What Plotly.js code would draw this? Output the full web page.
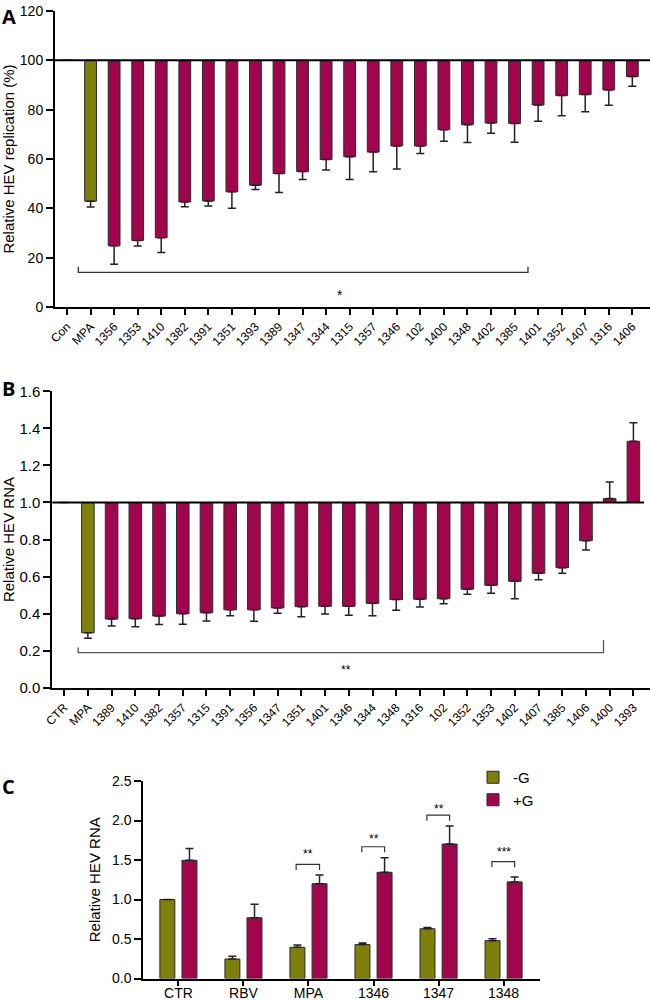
<!DOCTYPE html>
<html>
<head>
<meta charset="utf-8">
<script src="https://cdn.plot.ly/plotly-3.0.1.min.js"></script>
<style>html,body{margin:0;padding:0;background:#fff;}#chart{width:650px;height:1001px;}</style>
</head>
<body>
<div id="chart"></div>
<script>
// Panel A
var catsA = ['Con','MPA','1356','1353','1410','1382','1391','1351','1393','1389','1347','1344','1315','1357','1346','102','1400','1348','1402','1385','1401','1352','1407','1316','1406'];
var valsA = [100, 42.9, 24.8, 27.0, 28.1, 42.6, 43.0, 46.7, 49.4, 54.1, 54.9, 59.8, 60.9, 62.8, 65.3, 65.3, 71.9, 73.9, 74.6, 74.4, 81.9, 85.7, 86.1, 88.0, 93.4];
var errA  = [0, 2.4, 7.5, 2.3, 6.0, 2.0, 2.1, 6.7, 1.8, 7.7, 3.2, 4.3, 9.2, 8.0, 9.4, 3.1, 4.7, 7.2, 4.2, 7.6, 6.6, 8.2, 6.9, 6.2, 3.9];
var baseA = 100;

// Panel B
var catsB = ['CTR','MPA','1389','1410','1382','1357','1315','1391','1356','1347','1351','1401','1346','1344','1348','1316','102','1352','1353','1402','1407','1385','1406','1400','1393'];
var valsB = [1.0, 0.297, 0.371, 0.373, 0.387, 0.400, 0.405, 0.421, 0.421, 0.431, 0.438, 0.440, 0.440, 0.456, 0.476, 0.478, 0.481, 0.532, 0.553, 0.575, 0.618, 0.648, 0.794, 1.021, 1.330];
var errB  = [0, 0.030, 0.037, 0.043, 0.046, 0.057, 0.044, 0.032, 0.062, 0.029, 0.054, 0.042, 0.049, 0.067, 0.058, 0.042, 0.027, 0.027, 0.043, 0.094, 0.035, 0.030, 0.050, 0.090, 0.100];
var baseB = 1.0;

// Panel C
var catsC = ['CTR','RBV','MPA','1346','1347','1348'];
var minusG    = [1.0, 0.247, 0.395, 0.429, 0.630, 0.479];
var minusGerr = [0, 0.034, 0.030, 0.020, 0.017, 0.025];
var plusG     = [1.496, 0.769, 1.200, 1.344, 1.702, 1.223];
var plusGerr  = [0.151, 0.171, 0.110, 0.186, 0.228, 0.063];
var seriesNames = ['-G', '+G'];

var OLIVE = '#7f7f0c';
var CRIMSON = '#a1064c';
var EDGE = '#2a2a2a';
var FONT = 'Liberation Sans, Arial, sans-serif';

function rel(vals, base) { return vals.map(function(v){ return v - base; }); }
function upErr(vals, base, errs) { return errs.map(function(e,i){ return vals[i] >= base ? e : 0; }); }
function downErr(vals, base, errs) { return errs.map(function(e,i){ return vals[i] < base ? e : 0; }); }
function colorsFor(cats) { return cats.map(function(c){ return c === 'MPA' ? OLIVE : CRIMSON; }); }

var errStyle = {color: '#222', thickness: 1.5, width: 4};

var traceA = {
  type: 'bar', x: catsA, y: rel(valsA, baseA), base: baseA,
  xaxis: 'x', yaxis: 'y', width: 0.5, showlegend: false,
  marker: {color: colorsFor(catsA), line: {color: EDGE, width: 1}},
  error_y: Object.assign({type: 'data', symmetric: false, array: upErr(valsA, baseA, errA), arrayminus: downErr(valsA, baseA, errA)}, errStyle),
  hoverinfo: 'skip'
};
var traceB = {
  type: 'bar', x: catsB, y: rel(valsB, baseB), base: baseB,
  xaxis: 'x2', yaxis: 'y2', width: 0.53, showlegend: false,
  marker: {color: colorsFor(catsB), line: {color: EDGE, width: 1}},
  error_y: Object.assign({type: 'data', symmetric: false, array: upErr(valsB, baseB, errB), arrayminus: downErr(valsB, baseB, errB)}, errStyle),
  hoverinfo: 'skip'
};
var traceC1 = {
  type: 'bar', name: seriesNames[0], x: catsC, y: minusG, xaxis: 'x3', yaxis: 'y3',
  width: 0.23, offset: -0.285,
  marker: {color: OLIVE, line: {color: EDGE, width: 1}},
  error_y: Object.assign({type: 'data', symmetric: false, array: minusGerr, arrayminus: minusG.map(function(){return 0;})}, errStyle)
};
var traceC2 = {
  type: 'bar', name: seriesNames[1], x: catsC, y: plusG, xaxis: 'x3', yaxis: 'y3',
  width: 0.23, offset: 0.055,
  marker: {color: CRIMSON, line: {color: EDGE, width: 1}},
  error_y: Object.assign({type: 'data', symmetric: false, array: plusGerr, arrayminus: plusG.map(function(){return 0;})}, errStyle)
};

function px2y(p) { return (1001 - p) / 1001; }

var axisCommon = {showline: true, linewidth: 2, linecolor: '#000', ticks: 'outside', tickwidth: 2, tickcolor: '#000', showgrid: false, zeroline: false, fixedrange: true};

var layout = {
  width: 650, height: 1001,
  margin: {l: 0, r: 0, t: 0, b: 0},
  paper_bgcolor: '#fff', plot_bgcolor: 'rgba(0,0,0,0)',
  barmode: 'overlay',
  font: {family: FONT, color: '#000'},
  showlegend: true,
  legend: {x: 473/650, y: px2y(761), xanchor: 'left', yanchor: 'top', font: {family: FONT, size: 15}, bgcolor: 'rgba(0,0,0,0)', tracegroupgap: 0},
  xaxis: Object.assign({}, axisCommon, {domain: [55/650, 1], type: 'category', range: [-0.51, 24.75], anchor: 'y', ticklen: 6, tickangle: -45, tickfont: {family: FONT, size: 12}}),
  yaxis: Object.assign({}, axisCommon, {domain: [px2y(307), px2y(11)], range: [0, 120], dtick: 20, anchor: 'x', ticklen: 7, tickfont: {family: FONT, size: 14},
    title: {text: 'Relative HEV replication (%)', font: {family: FONT, size: 15}, standoff: 6}}),
  xaxis2: Object.assign({}, axisCommon, {domain: [52.3/650, 1], type: 'category', range: [-0.5, 24.7], anchor: 'y2', ticklen: 6, tickangle: -45, tickfont: {family: FONT, size: 12}}),
  yaxis2: Object.assign({}, axisCommon, {domain: [px2y(687.8), px2y(391.3)], range: [0, 1.6], dtick: 0.2, tickformat: '.1f', anchor: 'x2', ticklen: 7, tickfont: {family: FONT, size: 15},
    title: {text: 'Relative HEV RNA', font: {family: FONT, size: 15}, standoff: 6}}),
  xaxis3: Object.assign({}, axisCommon, {domain: [143.3/650, 540/650], type: 'category', range: [-0.54, 5.56], anchor: 'y3', ticklen: 5, ticklabelstandoff: -4, tickfont: {family: FONT, size: 14}}),
  yaxis3: Object.assign({}, axisCommon, {domain: [px2y(978.5), px2y(781)], range: [0, 2.5], dtick: 0.5, tickformat: '.1f', anchor: 'x3', ticklen: 7, tickfont: {family: FONT, size: 14},
    title: {text: 'Relative HEV RNA', font: {family: FONT, size: 15}, standoff: 8}}),
  shapes: [
    // reference lines
    {type: 'line', xref: 'x domain', yref: 'y', x0: 0, x1: 1, y0: baseA, y1: baseA, line: {color: '#000', width: 2}},
    {type: 'line', xref: 'x2 domain', yref: 'y2', x0: 0, x1: 0.99, y0: baseB, y1: baseB, line: {color: '#000', width: 2}},
    // significance brackets
    {type: 'path', xref: 'x', yref: 'y', path: 'M0.48,16.3 L0.48,14 L19.57,14 L19.57,16.3', line: {color: '#333', width: 1.3}},
    {type: 'path', xref: 'x2', yref: 'y2', path: 'M0.59,0.218 L0.59,0.19 L22.74,0.19 L22.74,0.258', line: {color: '#555', width: 1.3}},
    {type: 'path', xref: 'x3', yref: 'y3', path: 'M1.81,1.374 L1.81,1.445 L2.17,1.445 L2.17,1.374', line: {color: '#333', width: 1.2}},
    {type: 'path', xref: 'x3', yref: 'y3', path: 'M2.82,1.597 L2.82,1.668 L3.17,1.668 L3.17,1.597', line: {color: '#333', width: 1.2}},
    {type: 'path', xref: 'x3', yref: 'y3', path: 'M3.82,1.997 L3.82,2.068 L4.17,2.068 L4.17,1.997', line: {color: '#333', width: 1.2}},
    {type: 'path', xref: 'x3', yref: 'y3', path: 'M4.82,1.408 L4.82,1.479 L5.17,1.479 L5.17,1.408', line: {color: '#333', width: 1.2}}
  ],
  annotations: [
    {text: '<b>A</b>', xref: 'paper', yref: 'paper', x: 0, y: px2y(1), xanchor: 'left', yanchor: 'top', showarrow: false, font: {family: 'Open Sans, Liberation Sans, sans-serif', size: 20}},
    {text: '<b>B</b>', xref: 'paper', yref: 'paper', x: 0, y: px2y(373), xanchor: 'left', yanchor: 'top', showarrow: false, font: {family: 'Open Sans, Liberation Sans, sans-serif', size: 20}},
    {text: '<b>C</b>', xref: 'paper', yref: 'paper', x: 0, y: px2y(771), xanchor: 'left', yanchor: 'top', showarrow: false, font: {family: 'Open Sans, Liberation Sans, sans-serif', size: 20}},
    {text: '*', xref: 'x', yref: 'y', x: 11.6, y: 5, showarrow: false, font: {size: 14}},
    {text: '**', xref: 'x2', yref: 'y2', x: 11.89, y: 0.095, showarrow: false, font: {size: 12}},
    {text: '**', xref: 'x3', yref: 'y3', x: 2, y: 1.57, showarrow: false, font: {size: 12}},
    {text: '**', xref: 'x3', yref: 'y3', x: 3, y: 1.77, showarrow: false, font: {size: 12}},
    {text: '**', xref: 'x3', yref: 'y3', x: 4, y: 2.15, showarrow: false, font: {size: 12}},
    {text: '***', xref: 'x3', yref: 'y3', x: 5, y: 1.60, showarrow: false, font: {size: 12}}
  ]
};

Plotly.newPlot('chart', [traceA, traceB, traceC1, traceC2], layout, {staticPlot: true, displayModeBar: false});
</script>
</body>
</html>
